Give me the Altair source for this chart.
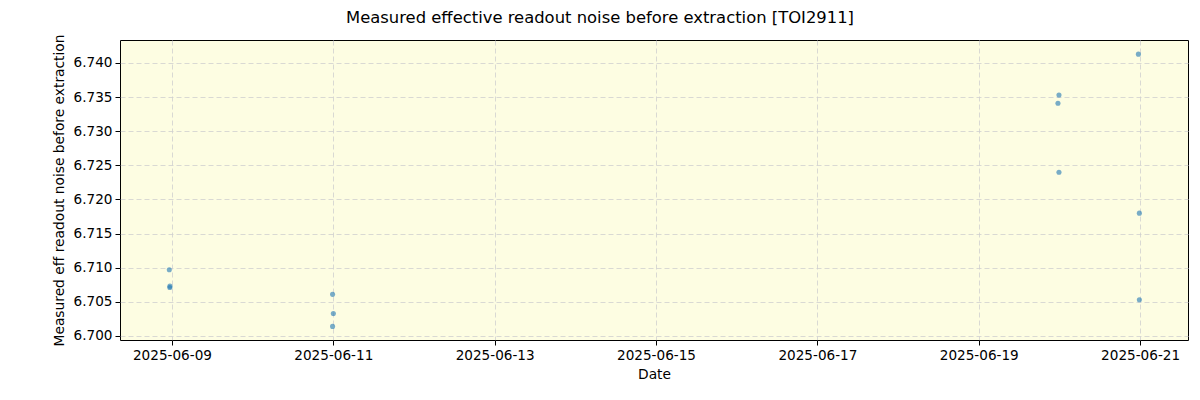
import altair as alt
import pandas as pd

dates = [
    "2025-06-08T23:13:00", "2025-06-08T23:24:00", "2025-06-08T23:22:00",
    "2025-06-10T23:47:00", "2025-06-11T00:01:00", "2025-06-10T23:47:00",
    "2025-06-19T23:52:00", "2025-06-19T23:34:00", "2025-06-19T23:52:00",
    "2025-06-20T23:30:00", "2025-06-20T23:47:00", "2025-06-20T23:47:00",
]
noise = [
    6.7097, 6.7073, 6.7071,
    6.7061, 6.7033, 6.7014,
    6.7353, 6.7341, 6.7240,
    6.7413, 6.7180, 6.7053,
]
y_ticks = [6.700, 6.705, 6.710, 6.715, 6.720, 6.725, 6.730, 6.735, 6.740]
x_tick_days = [9, 11, 13, 15, 17, 19, 21]

df = pd.DataFrame({"date": dates, "noise": noise})

x_ticks = [alt.DateTime(year=2025, month=6, date=d) for d in x_tick_days]

chart = alt.Chart(df).mark_circle(size=26, color="#1f77b4", opacity=0.6).encode(
    x=alt.X("date:T", title="Date",
            scale=alt.Scale(domain=[alt.DateTime(year=2025, month=6, date=8, hours=8, minutes=33),
                                    alt.DateTime(year=2025, month=6, date=21, hours=14, minutes=15)]),
            axis=alt.Axis(values=x_ticks, format="%Y-%m-%d", labelAngle=0)),
    y=alt.Y("noise:Q", title="Measured eff readout noise before extraction",
            scale=alt.Scale(domain=[6.69941, 6.74337], nice=False, zero=False),
            axis=alt.Axis(values=y_ticks, format=".3f")),
).properties(
    width=1068,
    height=300,
    padding={"left": 112, "top": 32, "right": 4, "bottom": 52},
    autosize=alt.AutoSizeParams(type="none"),
    title=alt.TitleParams("Measured effective readout noise before extraction [TOI2911]",
                          fontSize=16.4, font="DejaVu Sans", fontWeight="normal",
                          anchor="middle", dx=-54, offset=8, color="black"),
).configure_view(
    fill="#fdfde2", stroke="black", strokeWidth=1
).configure_axis(
    labelFont="DejaVu Sans", titleFont="DejaVu Sans", labelFontSize=13.6, titleFontSize=13.8,
    titleFontWeight="normal", labelColor="black", titleColor="black",
    grid=True, gridColor="#cfcfcf", gridDash=[5, 3], gridWidth=0.8,
    domain=False, tickColor="black", tickSize=5, labelPadding=3,
).configure_axisY(titlePadding=7).configure_axisX(titlePadding=6)

chart.save("out.html", embed_options={"renderer": "svg", "actions": False})
